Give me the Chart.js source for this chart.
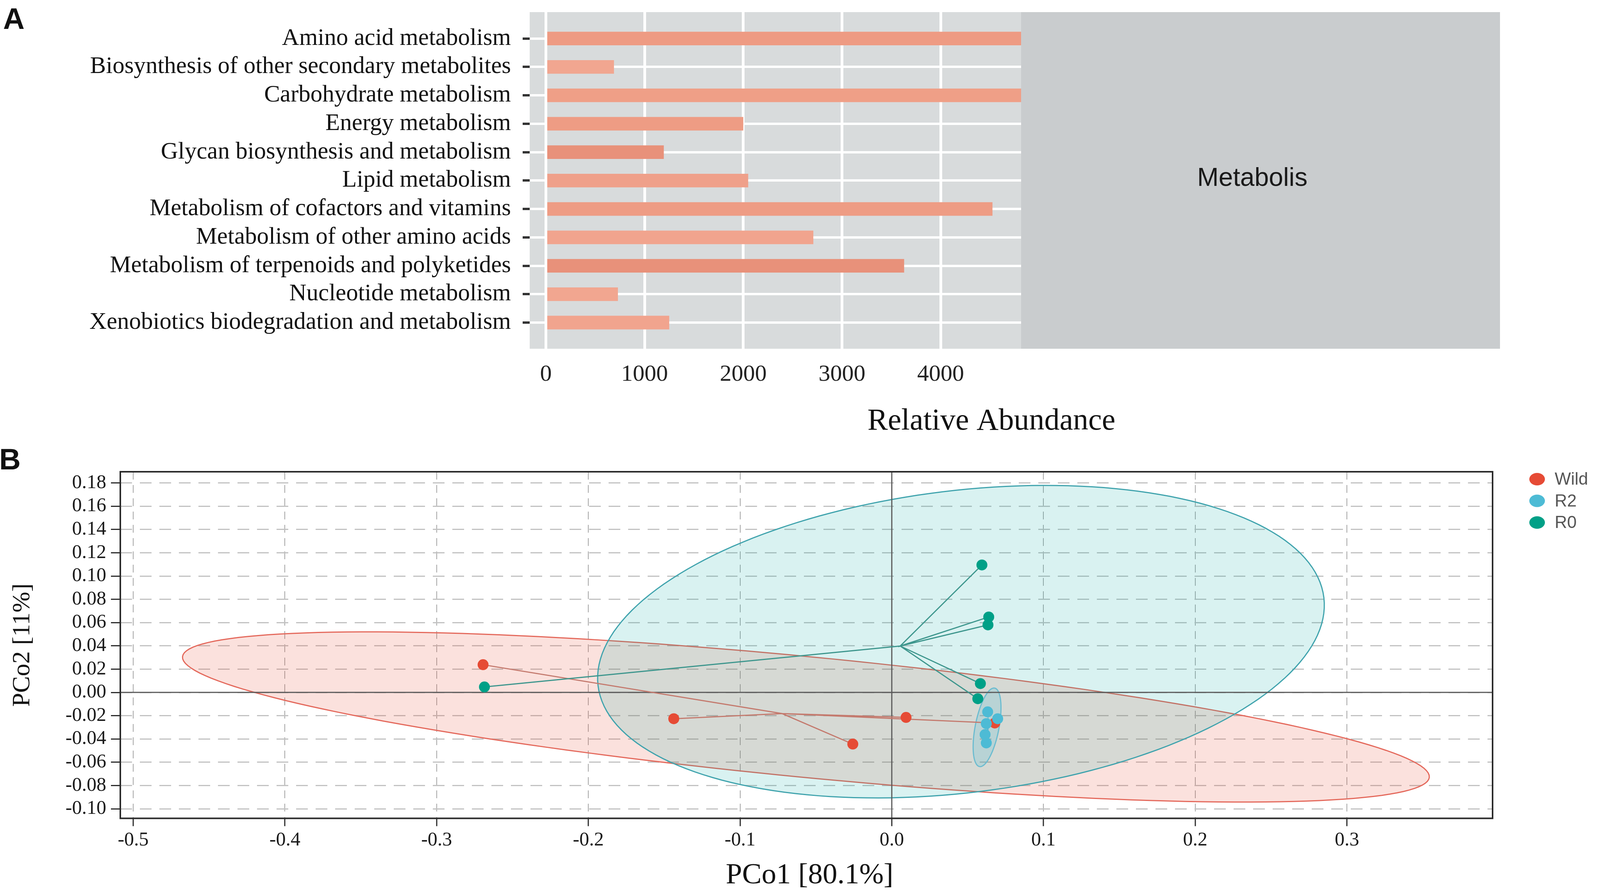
<!DOCTYPE html>
<html>
<head>
<meta charset="utf-8">
<script src="https://cdn.jsdelivr.net/npm/chart.js@4.4.1/dist/chart.umd.min.js"></script>
<style>
  html, body { margin: 0; padding: 0; background: #fff; }
  body { width: 4099px; height: 2279px; position: relative; overflow: hidden; }
  canvas { position: absolute; left: 0; }
  .tag { position: absolute; font: bold 76px "Liberation Sans", Arial, sans-serif; line-height: 1; color: #111; }
</style>
</head>
<body>
<canvas id="abund" width="4099" height="1150" style="top:0"></canvas>
<canvas id="pcoa" width="4099" height="1129" style="top:1150px"></canvas>
<div class="tag" style="left:8px; top:10px">A</div>
<div class="tag" style="left:-2px; top:1138px">B</div>
<script>
// ---- panel A : KEGG level-2 pathways ----
var pathways = ['Amino acid metabolism', 'Biosynthesis of other secondary metabolites', 'Carbohydrate metabolism',
                'Energy metabolism', 'Glycan biosynthesis and metabolism', 'Lipid metabolism',
                'Metabolism of cofactors and vitamins', 'Metabolism of other amino acids',
                'Metabolism of terpenoids and polyketides', 'Nucleotide metabolism',
                'Xenobiotics biodegradation and metabolism'];
var abundance = [4815, 690, 4815, 2000, 1195, 2050, 4525, 2710, 3630, 730, 1250];
var abundanceTicks = [0, 1000, 2000, 3000, 4000];
var stripLabel = 'Metabolis';

// ---- panel B : PCoA ----
var groups = ['Wild', 'R2', 'R0'];
var wildX = [-0.2694, -0.1437, -0.0257, 0.0094, 0.0679];
var wildY = [0.0238, -0.0226, -0.0444, -0.0215, -0.0263];
var r2X = [0.0632, 0.0698, 0.0623, 0.0615, 0.0623];
var r2Y = [-0.0167, -0.0226, -0.0268, -0.0362, -0.0434];
var r0X = [-0.2685, 0.0594, 0.0639, 0.0634, 0.0584, 0.0567];
var r0Y = [0.0047, 0.1095, 0.0648, 0.0580, 0.0076, -0.0054];
// confidence ellipses: centre x, centre y, half-axis A (x, y), half-axis B (x, y)
var ellipseWild = [-0.0566, -0.0211, 0.4109, -0.0518, -0.0038, -0.0516];
var ellipseR0 = [0.0456, 0.0436, 0.2392, 0.0379, 0.0120, -0.1288];
var ellipseR2 = [0.0628, -0.0300, -0.0050, -0.0337, 0.0077, -0.0019];
var pcoXTicks = [-0.5, -0.4, -0.3, -0.2, -0.1, 0, 0.1, 0.2, 0.3];
var pcoYTicks = [-0.10, -0.08, -0.06, -0.04, -0.02, 0, 0.02, 0.04, 0.06, 0.08, 0.10, 0.12, 0.14, 0.16, 0.18];

var barColors = ['#EE9B83', '#F1A690', '#EF9F87', '#EE9C84', '#E8917A', '#EFA08A',
                 '#EE9C84', '#F1A48E', '#E8917A', '#F1A690', '#F1A48E'];
var groupColors = {Wild: '#E64B35', R2: '#4DBBD5', R0: '#00A087'};

function noEdgePadding(s) {
  s.paddingTop = 0; s.paddingBottom = 0; s.paddingLeft = 0; s.paddingRight = 0;
}

var abundPanel = {
  id: 'abundPanel',
  beforeDraw: function(chart) {
    var ctx = chart.ctx, a = chart.chartArea;
    ctx.save();
    ctx.fillStyle = '#D8DBDC';
    ctx.fillRect(a.left, a.top, a.right - a.left, a.bottom - a.top);
    ctx.fillStyle = '#C9CCCE';
    ctx.fillRect(a.right, a.top, 1226, a.bottom - a.top);
    ctx.fillStyle = '#1a1a1a';
    ctx.textAlign = 'center';
    ctx.textBaseline = 'middle';
    ctx.font = '66px "Liberation Sans"';
    ctx.fillText(stripLabel, a.right + 592, (a.top + a.bottom) / 2 - 4);
    ctx.fillStyle = '#111';
    ctx.font = '78px "Liberation Serif"';
    ctx.fillText('Relative Abundance', 2538, 1080);
    ctx.restore();
  }
};

new Chart(document.getElementById('abund'), {
  type: 'bar',
  data: {
    datasets: [{
      data: abundance.map(function(v, i) { return {x: v, y: i}; }),
      backgroundColor: barColors,
      borderWidth: 0,
      barPercentage: 0.48,
      categoryPercentage: 1
    }]
  },
  options: {
    indexAxis: 'y',
    responsive: false,
    animation: false,
    devicePixelRatio: 1,
    layout: { padding: { top: 31, right: 1485, left: 0, bottom: 0 } },
    plugins: { legend: { display: false }, tooltip: { enabled: false } },
    scales: {
      x: {
        type: 'linear', min: -164, max: 4815,
        afterBuildTicks: function(s) { s.ticks = abundanceTicks.map(function(v) { return {value: v}; }); },
        afterFit: function(s) { s.height = 257; noEdgePadding(s); },
        grid: { color: '#ffffff', lineWidth: 7, drawTicks: false },
        border: { display: false },
        ticks: { callback: function(v) { return String(v); }, font: { family: 'Liberation Serif', size: 60 }, color: '#222', padding: 30 }
      },
      y: {
        type: 'linear', reverse: true, offset: false, min: -0.93, max: pathways.length - 1 + 0.92,
        afterBuildTicks: function(s) { s.ticks = pathways.map(function(p, i) { return {value: i}; }); },
        afterFit: function(s) { s.width = 1356; noEdgePadding(s); },
        grid: { offset: false, color: '#ffffff', lineWidth: 6, tickLength: 18, tickColor: '#333', tickWidth: 6 },
        border: { display: false },
        ticks: { callback: function(v) { return pathways[v]; }, autoSkip: false, font: { family: 'Liberation Serif', size: 61 }, color: '#111', padding: 30 }
      }
    }
  },
  plugins: [abundPanel]
});

function pts(xs, ys) {
  return xs.map(function(x, i) { return {x: x, y: ys[i]}; });
}
function spider(xs, ys) {
  var cx = xs.reduce(function(s, v) { return s + v; }, 0) / xs.length;
  var cy = ys.reduce(function(s, v) { return s + v; }, 0) / ys.length;
  var out = [];
  xs.forEach(function(x, i) { out.push({x: cx, y: cy}); out.push({x: x, y: ys[i]}); });
  return out;
}
function traceEllipse(ctx, xs, ys, e) {
  ctx.beginPath();
  for (var k = 0; k <= 180; k++) {
    var t = k / 180 * 2 * Math.PI;
    var px = xs.getPixelForValue(e[0] + e[2] * Math.cos(t) + e[4] * Math.sin(t));
    var py = ys.getPixelForValue(e[1] + e[3] * Math.cos(t) + e[5] * Math.sin(t));
    if (k === 0) ctx.moveTo(px, py); else ctx.lineTo(px, py);
  }
  ctx.closePath();
}

var pcoaPanel = {
  id: 'pcoaPanel',
  beforeDatasetsDraw: function(chart) {
    var ctx = chart.ctx, a = chart.chartArea, xs = chart.scales.x, ys = chart.scales.y;
    ctx.save();
    ctx.beginPath();
    ctx.rect(a.left, a.top, a.right - a.left, a.bottom - a.top);
    ctx.clip();
    var ells = [[ellipseWild, 'rgba(230,75,53,0.17)', '#E4685B'],
                [ellipseR0, 'rgba(0,165,160,0.15)', '#3FA3AD'],
                [ellipseR2, 'rgba(77,187,213,0.22)', '#6CBCD0']];
    ells.forEach(function(e) {
      traceEllipse(ctx, xs, ys, e[0]);
      ctx.fillStyle = e[1];
      ctx.fill();
      ctx.lineWidth = 3;
      ctx.strokeStyle = e[2];
      ctx.stroke();
    });
    ctx.strokeStyle = '#5a5a5a';
    ctx.lineWidth = 3;
    ctx.beginPath();
    ctx.moveTo(xs.getPixelForValue(0), a.top);
    ctx.lineTo(xs.getPixelForValue(0), a.bottom);
    ctx.moveTo(a.left, ys.getPixelForValue(0));
    ctx.lineTo(a.right, ys.getPixelForValue(0));
    ctx.stroke();
    ctx.restore();
  },
  afterDraw: function(chart) {
    var ctx = chart.ctx, a = chart.chartArea;
    ctx.save();
    ctx.strokeStyle = '#2b2b2b';
    ctx.lineWidth = 4;
    ctx.strokeRect(a.left, a.top, a.right - a.left, a.bottom - a.top);
    ctx.fillStyle = '#111';
    ctx.textAlign = 'center';
    ctx.textBaseline = 'middle';
    ctx.font = '75px "Liberation Serif"';
    ctx.fillText('PCo1 [80.1%]', (a.left + a.right) / 2 + 8, 1092);
    ctx.save();
    ctx.translate(58, (a.top + a.bottom) / 2);
    ctx.rotate(-Math.PI / 2);
    ctx.font = '64px "Liberation Serif"';
    ctx.fillText('PCo2 [11%]', 0, 0);
    ctx.restore();
    ctx.font = '44px "Liberation Sans"';
    ctx.textAlign = 'left';
    groups.forEach(function(g, i) {
      var y = 77 + i * 55.5;
      ctx.fillStyle = groupColors[g];
      ctx.beginPath();
      ctx.ellipse(3935, y, 20, 16, 0, 0, 2 * Math.PI);
      ctx.fill();
      ctx.fillStyle = '#555';
      ctx.fillText(g, 3980, y + 2);
    });
    ctx.restore();
  }
};

function pointSet(label, xs, ys) {
  return { type: 'scatter', label: label, data: pts(xs, ys), backgroundColor: groupColors[label],
           borderWidth: 0, pointRadius: 14, pointHoverRadius: 14 };
}
function lineSet(label, xs, ys, color, w) {
  return { type: 'line', label: label + ' links', data: spider(xs, ys), borderColor: color, borderWidth: w,
           pointRadius: 0, fill: false, tension: 0 };
}

new Chart(document.getElementById('pcoa'), {
  type: 'scatter',
  data: {
    datasets: [
      pointSet('R2', r2X, r2Y),
      pointSet('Wild', wildX, wildY),
      pointSet('R0', r0X, r0Y),
      lineSet('R2', r2X, r2Y, '#5BB5CC', 2),
      lineSet('R0', r0X, r0Y, '#3D968D', 3),
      lineSet('Wild', wildX, wildY, '#C47A6E', 3)
    ]
  },
  options: {
    responsive: false,
    animation: false,
    devicePixelRatio: 1,
    layout: { padding: { top: 58, right: 278, left: 0, bottom: 0 } },
    plugins: { legend: { display: false }, tooltip: { enabled: false } },
    scales: {
      x: {
        type: 'linear', min: -0.5085, max: 0.396,
        afterBuildTicks: function(s) { s.ticks = pcoXTicks.map(function(v) { return {value: v}; }); },
        afterFit: function(s) { s.height = 183.5; noEdgePadding(s); },
        grid: { color: '#a6a6a6', lineWidth: 2, tickLength: 20, tickColor: '#2b2b2b', tickWidth: 3 },
        border: { display: false, dash: [20, 14] },
        ticks: { callback: function(v) { return v.toFixed(1); }, font: { family: 'Liberation Serif', size: 50 }, color: '#1a1a1a', padding: 6 }
      },
      y: {
        type: 'linear', min: -0.1082, max: 0.1896,
        afterBuildTicks: function(s) { s.ticks = pcoYTicks.map(function(v) { return {value: v}; }); },
        afterFit: function(s) { s.width = 308; noEdgePadding(s); },
        grid: { color: '#c2c2c2', lineWidth: 3, tickLength: 24, tickColor: '#2b2b2b', tickWidth: 3 },
        border: { display: false, dash: [30, 20] },
        ticks: { callback: function(v) { return v.toFixed(2); }, autoSkip: false, font: { family: 'Liberation Serif', size: 50 }, color: '#1a1a1a', padding: 12 }
      }
    }
  },
  plugins: [pcoaPanel]
});
</script>
</body>
</html>
